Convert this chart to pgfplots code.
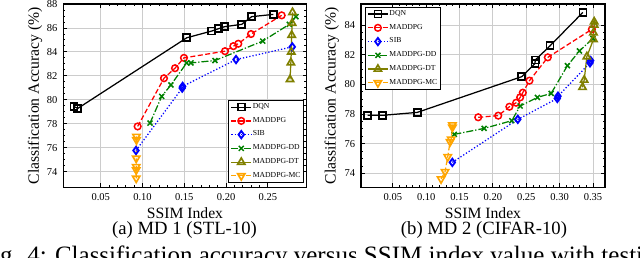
\documentclass[border=0pt]{standalone}
\usepackage{fontspec}
\setmainfont{Liberation Serif}
\usepackage{pgfplots}
\pgfplotsset{compat=1.18}

\definecolor{cDD}{rgb}{0,0.5,0}
\definecolor{cDT}{rgb}{0.5,0.5,0}
\definecolor{cMC}{rgb}{1,0.647,0}

\pgfplotsset{
  myax/.style={
    scale only axis, width=146pt, height=110pt,
    tick align=inside, tick pos=both, xticklabel pos=lower, yticklabel pos=left,
    major tick length=2.4pt, minor tick length=1.3pt,
    every tick/.style={black, line width=0.5pt},
    minor x tick num=4, minor y tick num=3,
    grid=major, major grid style={black!20, line width=0.5pt},
    axis line style={line width=0.7pt},
    tick label style={font=\fontsize{6.3}{7}\selectfont},
    /pgf/number format/assume math mode=true,
    xticklabel style={/pgf/number format/.cd, fixed, fixed zerofill, precision=2},
    label style={font=\fontsize{9.4}{11}\selectfont},
    xlabel={SSIM Index},
    ylabel={Classification Accuracy (\%)},
    xlabel style={at={(rel axis cs:0.5,0)}, anchor=base, yshift=-18.6pt},
    legend cell align=left,
    legend style={font=\fontsize{4.6}{5}\selectfont, draw=black, line width=0.5pt, inner sep=1.2pt, row sep=2.5pt, nodes={inner sep=0.6pt}},
    legend image code/.code={\draw[mark repeat=2,mark phase=2] plot coordinates {(0cm,0cm) (0.21cm,0cm) (0.42cm,0cm)};},
  },
  pDQN/.style={black, solid, line width=0.75pt, mark=square, mark size=2.1pt, mark options={solid, line width=1pt}},
  pMAD/.style={red, line width=0.75pt, dash pattern=on 3pt off 1.5pt, mark=o, mark size=2pt, mark options={solid, line width=0.9pt}},
  pSIB/.style={blue, line width=0.75pt, dash pattern=on 0.75pt off 1.2pt, mark=diamond, mark size=2.2pt, mark options={solid, line width=1.1pt}},
  pDD/.style={cDD, line width=0.75pt, dash pattern=on 4.2pt off 1.2pt on 0.75pt off 1.2pt, mark=x, mark size=2.1pt, mark options={solid, line width=0.9pt}},
  pDT/.style={cDT, solid, line width=0.75pt, mark=triangle, mark size=2.5pt, mark options={solid, line width=1pt}},
  pMC/.style={cMC, line width=0.75pt, dash pattern=on 3pt off 1.5pt, mark=triangle, mark size=2.5pt, mark options={solid, rotate=180, line width=1pt}},
}

\begin{document}
\begin{tikzpicture}
\path[use as bounding box] (0pt,0pt) rectangle (384pt,154.8pt);
\clip (0pt,0pt) rectangle (384pt,154.8pt);

\begin{axis}[myax, at={(38pt,42.42pt)}, anchor=south west,
  xmin=0.0053, xmax=0.2964, ymin=72.7, ymax=88,
  xtick={0.05,0.10,0.15,0.20,0.25}, ytick={74,76,...,88},
  ylabel style={at={(axis description cs:-0.116,0.5)}, anchor=center},
  legend style={at={(0.989,0.023)}, anchor=south east}]
\addplot[pDQN] coordinates {(0.018,79.45)(0.0225,79.28)(0.153,85.18)(0.1828,85.74)(0.1907,85.93)(0.198,86.1)(0.2187,86.3)(0.2306,86.94)(0.2565,87.13)};
\addlegendentry{DQN}
\addplot[pMAD] coordinates {(0.0942,77.78)(0.1257,81.8)(0.1389,82.64)(0.1496,83.5)(0.1987,84.06)(0.2087,84.48)(0.2146,84.68)(0.2298,85.49)(0.2665,87.05)};
\addlegendentry{MADDPG}
\addplot[pSIB] coordinates {(0.0922,75.77)(0.1475,80.98)(0.148,81.12)(0.2119,83.36)(0.2792,84.42)};
\addlegendentry{SIB}
\addplot[pDD] coordinates {(0.109,78.06)(0.123,80.29)(0.134,81.24)(0.1529,83.08)(0.158,83.08)(0.1867,83.28)(0.2438,84.9)(0.2756,86.3)(0.2836,86.94)};
\addlegendentry{MADDPG-DD}
\addplot[pDT] coordinates {(0.2765,81.7)(0.2775,83.1)(0.278,84.0)(0.2785,85.4)(0.279,86.4)(0.2795,87.3)};
\addlegendentry{MADDPG-DT}
\addplot[pMC] coordinates {(0.0925,73.45)(0.0925,74.15)(0.0925,74.42)(0.0925,75.12)(0.0928,76.66)(0.0928,76.94)};
\addlegendentry{MADDPG-MC}
\end{axis}

\begin{axis}[myax, at={(216.6pt,42.42pt)}, anchor=south west, width=146.4pt,
  xmin=0.0023, xmax=0.368, ymin=73.06, ymax=85.42,
  xtick={0.05,0.10,0.15,0.20,0.25,0.30,0.35}, ytick={74,76,...,84},
  ylabel style={at={(axis description cs:-0.12,0.5)}, anchor=center},
  legend style={at={(0.016,0.984)}, anchor=north west}]
\addplot[pDQN] coordinates {(0.0123,77.91)(0.0342,77.91)(0.0867,78.11)(0.2433,80.52)(0.263,81.4)(0.2635,81.64)(0.2857,82.6)(0.3348,84.85)};
\addlegendentry{DQN}
\addplot[pMAD] coordinates {(0.178,77.78)(0.208,77.89)(0.2247,78.49)(0.2348,78.76)(0.2408,79.12)(0.2448,79.44)(0.2548,80.25)(0.2823,81.82)(0.3483,83.71)};
\addlegendentry{MADDPG}
\addplot[pSIB] coordinates {(0.1392,74.74)(0.2373,77.64)(0.2965,79.05)(0.2975,79.2)(0.3455,81.45)(0.3465,81.6)};
\addlegendentry{SIB}
\addplot[pDD] coordinates {(0.1422,76.63)(0.1868,77.03)(0.2283,77.55)(0.2408,78.54)(0.2667,79.12)(0.2873,79.39)(0.3117,81.26)(0.3297,82.25)(0.3498,83.1)};
\addlegendentry{MADDPG-DD}
\addplot[pDT] coordinates {(0.3343,79.8)(0.3368,80.29)(0.3408,81.87)(0.3507,83.03)(0.3507,83.48)(0.3518,84.0)(0.3518,84.22)};
\addlegendentry{MADDPG-DT}
\addplot[pMC] coordinates {(0.1223,73.62)(0.1283,74.11)(0.1323,75.12)(0.1358,76.13)(0.1375,76.3)(0.1393,77.1)(0.1393,77.26)};
\addlegendentry{MADDPG-MC}
\end{axis}

\node[anchor=base, font=\fontsize{11.2}{13}\selectfont] at (110.7pt,14.1pt) {(a) MD 1 (STL-10)};
\node[anchor=base, font=\fontsize{11.2}{13}\selectfont] at (290.4pt,14.1pt) {(b) MD 2 (CIFAR-10)};
\node[anchor=base west, inner sep=0pt, font=\fontsize{15}{18}\selectfont] at (-12.6pt,-3.3pt) {Fig. 4: Classification accuracy versus SSIM index value with testing data};
\end{tikzpicture}
\end{document}
